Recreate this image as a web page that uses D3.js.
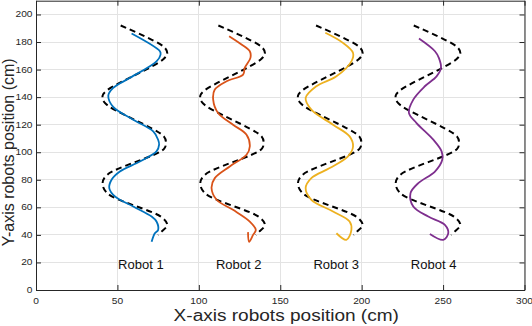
<!DOCTYPE html>
<html><head><meta charset="utf-8">
<script src="https://cdn.jsdelivr.net/npm/d3@7"></script>
<style>
html,body{margin:0;padding:0;background:#fff;}
svg{display:block;font-family:"Liberation Sans",Arial,Helvetica,sans-serif;}
</style></head>
<body>
<svg id="c" width="532" height="326"></svg>
<script>
// ---- data ----
const xTicks = [0, 50, 100, 150, 200, 250, 300];
const yTicks = [0, 20, 40, 60, 80, 100, 120, 140, 160, 180, 200];
const robotNames = ["Robot 1", "Robot 2", "Robot 3", "Robot 4"];
const labelX = [64.4, 124.5, 184.4, 244.2];
const labelY = 15.2;
const colors = ["#0072BD", "#D95319", "#EDB120", "#7E2F8E"];

const ref1 = [[52,192],[78.5,176.5],[80.6,172.1],[78.5,167.8],[43.7,145],[40.9,141.1],[42.3,135.8],[78.5,111.5],[79.8,106.7],[78.5,102.3],[43.7,83.6],[40.9,77.6],[43.7,70.3],[77.1,52.9],[80.6,47.3],[77.1,42.4],[75,40]];
const ref2 = [[112,192],[138.5,176.5],[140.6,172.1],[138.5,167.8],[103.7,145],[100.9,141.1],[102.3,135.8],[138.5,111.5],[139.8,106.7],[138.5,102.3],[103.7,83.6],[100.9,77.6],[103.7,70.3],[137.1,52.9],[140.6,47.3],[137.1,42.4],[135,40]];
const ref3 = [[172,192],[198.5,176.5],[200.6,172.1],[198.5,167.8],[163.7,145],[160.9,141.1],[162.3,135.8],[198.5,111.5],[199.8,106.7],[198.5,102.3],[163.7,83.6],[160.9,77.6],[163.7,70.3],[197.1,52.9],[200.6,47.3],[197.1,42.4],[195,40]];
const ref4 = [[232,192],[258.5,176.5],[260.6,172.1],[258.5,167.8],[223.7,145],[220.9,141.1],[222.3,135.8],[258.5,111.5],[259.8,106.7],[258.5,102.3],[223.7,83.6],[220.9,77.6],[223.7,70.3],[257.1,52.9],[260.6,47.3],[257.1,42.4],[255,40]];

const robot1 = [[58.7,186.2],[76.1,173.3],[76.5,170.9],[74,166],[57.7,154],[47.4,146.7],[44.4,141.1],[47.4,132.9],[59.7,123.6],[72,115.1],[75,109.1],[75.6,105.5],[74,100.6],[63.8,93.3],[51.5,86],[46.4,80],[45,74],[48.5,67.9],[59.7,60.6],[71,53.3],[74,49.7],[75,43.6],[73,41.2],[71,35.1]];
const robot2 = [[118.6,184.2],[126.2,178.2],[131.3,173.3],[131.7,168.5],[128.2,161.2],[127.2,156.4],[117,151.5],[109.8,145.5],[108.8,138.2],[111.8,128.5],[121,120],[129.3,112.7],[131.3,104.2],[129.3,98.2],[119,89.7],[109.8,81.2],[107.8,74],[110.9,65.5],[121,58.2],[131.3,49.7],[135,43.6],[133.3,40],[130.9,35],[130.2,42]];
const robot3 = [[177.7,186.7],[188.5,179.4],[194.7,172.1],[193.7,166],[184.5,155.1],[172.2,147.9],[165.6,139.4],[169.1,130.9],[182.4,120],[192.6,111.5],[194.7,104.2],[191.6,97],[180.4,88.5],[169.1,81.2],[165.6,74],[169.1,65.5],[182.4,57],[192.6,49.7],[193.7,43.6],[190.6,36.4],[184.5,41.2]];
const robot4 = [[235.2,182.5],[245,173.3],[247.4,168.5],[248.7,161.2],[246,155.1],[238.8,147.9],[231.7,138.2],[229,128.5],[233.7,121.2],[244,109.1],[249.1,100.6],[249.5,94.5],[245,86],[234.8,77.6],[230,70.3],[231.7,60.6],[240.9,53.3],[251.1,47.3],[253.2,41.2],[250.1,36.4],[241.9,40.7]];

const refs = [ref1, ref2, ref3, ref4];
const robots = [robot1, robot2, robot3, robot4];

// ---- drawing ----
const svg = d3.select("#c");
const L = 36, R = 524.5, T = 0.7, B = 290;
const x = d3.scaleLinear().domain([0, 300]).range([L, R]);
const y = d3.scaleLinear().domain([0, 210]).range([B, T]);
const axisCol = "#262626";

// grid
const g = svg.append("g");
g.selectAll(".gx").data(xTicks).join("line")
  .attr("x1", d => x(d)).attr("x2", d => x(d)).attr("y1", B).attr("y2", T)
  .attr("stroke", "#e3e3e3").attr("stroke-width", 1).attr("shape-rendering", "crispEdges");
g.selectAll(".gy").data(yTicks).join("line")
  .attr("y1", d => y(d)).attr("y2", d => y(d)).attr("x1", L).attr("x2", R)
  .attr("stroke", "#e3e3e3").attr("stroke-width", 1).attr("shape-rendering", "crispEdges");

// lines
const line = d3.line().x(d => x(d[0])).y(d => y(d[1])).curve(d3.curveCatmullRom.alpha(0.5));
refs.forEach(r => {
  svg.append("path").attr("d", line(r)).attr("fill", "none")
    .attr("stroke", "#000").attr("stroke-width", 2).attr("stroke-dasharray", "6,4");
});
robots.forEach((r, i) => {
  svg.append("path").attr("d", line(r)).attr("fill", "none")
    .attr("stroke", colors[i]).attr("stroke-width", 1.8).attr("stroke-linejoin", "round");
});

// axes (inward ticks, box)
const ax = svg.append("g").attr("transform", `translate(0,${B})`)
  .call(d3.axisBottom(x).tickValues(xTicks).tickSizeInner(-5).tickSizeOuter(0).tickFormat(""));
const axT = svg.append("g").attr("transform", `translate(0,${T})`)
  .call(d3.axisTop(x).tickValues(xTicks).tickSizeInner(-5).tickSizeOuter(0).tickFormat(""));
const ay = svg.append("g").attr("transform", `translate(${L},0)`)
  .call(d3.axisLeft(y).tickValues(yTicks).tickSizeInner(-5).tickSizeOuter(0).tickFormat(""));
const ayR = svg.append("g").attr("transform", `translate(${R},0)`)
  .call(d3.axisRight(y).tickValues(yTicks).tickSizeInner(-5).tickSizeOuter(0).tickFormat(""));
[ax, axT, ay, ayR].forEach(a => {
  a.selectAll("path, line").attr("stroke", axisCol).attr("stroke-width", 1);
});

// tick labels
svg.append("g").selectAll("text").data(xTicks).join("text")
  .attr("transform", d => `translate(${x(d)},304) scale(1.2,1)`)
  .attr("text-anchor", "middle").attr("font-size", 8.5).attr("fill", axisCol)
  .text(d => d);
svg.append("g").selectAll("text").data(yTicks).join("text")
  .attr("transform", d => `translate(32.5,${y(d) + 3}) scale(1.2,1)`)
  .attr("text-anchor", "end").attr("font-size", 8.5).attr("fill", axisCol)
  .text(d => d);

// axis titles
svg.append("text")
  .attr("transform", `translate(${(L + R) / 2 + 6},321) scale(1.19,1)`)
  .attr("text-anchor", "middle").attr("font-size", 16).attr("fill", axisCol)
  .text("X-axis robots position (cm)");
svg.append("text")
  .attr("transform", `translate(13.5,${(B + T) / 2 + 7}) rotate(-90)`)
  .attr("text-anchor", "middle").attr("font-size", 16).attr("fill", axisCol)
  .text("Y-axis robots position (cm)");

// robot labels
svg.append("g").selectAll("text").data(robotNames).join("text")
  .attr("x", (d, i) => x(labelX[i])).attr("y", y(labelY))
  .attr("text-anchor", "middle").attr("font-size", 13).attr("fill", "#111")
  .text(d => d);
</script>
</body></html>
